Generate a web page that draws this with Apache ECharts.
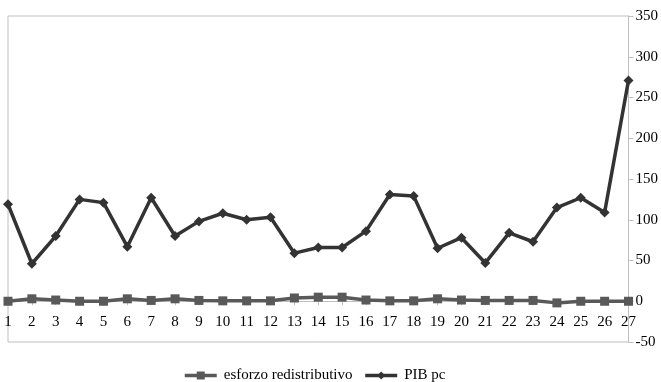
<!DOCTYPE html>
<html>
<head>
<meta charset="utf-8">
<script src="https://cdn.jsdelivr.net/npm/echarts@6/dist/echarts.min.js"></script>
<style>
html,body{margin:0;padding:0;background:#fff;}
#c{width:661px;height:382px;}
</style>
</head>
<body>
<div id="c"></div>
<script>
const categories = ['1','2','3','4','5','6','7','8','9','10','11','12','13','14','15','16','17','18','19','20','21','22','23','24','25','26','27'];
const esforzoRedistributivo = [0,3,1.5,0,0,3,1,3,1,0.5,0.5,0.5,4,5,5,1.5,0.5,0.5,3,1.5,1,1,1,-2,0,0,0];
const pibPc = [119,46,80,125,121,67,127,80,98,108,100,103,59,66,66,86,131,129,65,78,47,84,73,115,127,109,271];
const yTicks = {min:-50, max:350, interval:50};

const gridTop = 16, gridBottom = 40, H = 382;
const plotH = H - gridTop - gridBottom;
const zeroOffset = -plotH * (0 - yTicks.min) / (yTicks.max - yTicks.min);

const chart = echarts.init(document.getElementById('c'));
const font = 'Liberation Serif';
chart.setOption({
  animation:false,
  backgroundColor:'#fff',
  textStyle:{fontFamily:font},
  grid:{left:8, right:31, top:gridTop, bottom:gridBottom, show:true, borderColor:'#bfbfbf', borderWidth:1, containLabel:false},
  legend:{
    top:363, left:178,
    itemWidth:32, itemHeight:10, itemGap:11,
    lineStyle:{width:3.5},
    textStyle:{fontFamily:font, fontSize:15, color:'#000', padding:[0,0,0,2]},
    data:['esforzo redistributivo','PIB pc']
  },
  xAxis:{
    type:'category', data:categories, boundaryGap:false,
    position:'bottom', offset:zeroOffset,
    axisLine:{onZero:false, lineStyle:{color:'#bfbfbf', width:1}},
    axisTick:{show:true, alignWithLabel:true, length:4, lineStyle:{color:'#bfbfbf'}},
    axisLabel:{color:'#000', fontSize:15, fontFamily:font, margin:13, interval:0},
    splitLine:{show:false}
  },
  yAxis:{
    type:'value', position:'right', min:yTicks.min, max:yTicks.max, interval:yTicks.interval,
    axisLine:{show:true, lineStyle:{color:'#bfbfbf', width:1}},
    axisTick:{show:true, length:5, lineStyle:{color:'#bfbfbf'}},
    axisLabel:{color:'#000', fontSize:15, fontFamily:font, margin:7},
    splitLine:{show:false}
  },
  series:[
    {name:'esforzo redistributivo', type:'line', data:esforzoRedistributivo,
     symbol:'rect', symbolSize:9, lineStyle:{color:'#595959', width:3.5},
     itemStyle:{color:'#595959'}},
    {name:'PIB pc', type:'line', data:pibPc,
     symbol:'diamond', symbolSize:10, lineStyle:{color:'#333333', width:3.5},
     itemStyle:{color:'#333333'}}
  ]
});
</script>
</body>
</html>
